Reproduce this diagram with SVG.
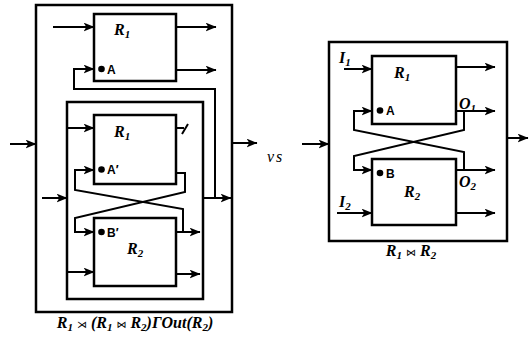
<svg xmlns="http://www.w3.org/2000/svg" width="529" height="337" viewBox="0 0 529 337">
<defs>
<marker id="ah" viewBox="0 0 10 8" refX="9.5" refY="4" markerWidth="11" markerHeight="9" markerUnits="userSpaceOnUse" orient="auto">
<path d="M0,0 L10,4 L0,8 L2.5,4 z" fill="#000"/>
</marker>
<style>
.box{fill:#fff;stroke:#000;stroke-width:2.5}
.frame{fill:none;stroke:#000;stroke-width:2.5}
.ln{fill:none;stroke:#000;stroke-width:2;marker-end:url(#ah)}
.pl{fill:none;stroke:#000;stroke-width:2}
.r{font-family:"Liberation Serif",serif;font-weight:bold;font-style:italic;font-size:16px;fill:#000}
.sub{font-size:11px}
.pin{font-family:"Liberation Sans",Arial,sans-serif;font-weight:bold;font-size:12px;fill:#000}
.op{font-family:"DejaVu Sans",sans-serif;font-style:normal;font-weight:normal;font-size:10px}
</style>
</defs>
<rect width="529" height="337" fill="#fff"/>

<g id="left-frame"><rect class="frame" x="36" y="5" width="196" height="307"/></g>
<g id="inner-frame"><rect class="frame" x="67" y="102" width="136" height="197"/></g>

<g id="connectors">
<line class="ln" x1="10" y1="144" x2="36" y2="144"/>
<line class="ln" x1="53" y1="27" x2="94" y2="27"/>
<line class="ln" x1="176" y1="27" x2="216" y2="27"/>
<line class="ln" x1="176" y1="70" x2="216" y2="70"/>
<path class="ln" d="M215,198 V89 H74 V69 H94"/>
<line class="ln" x1="42" y1="198" x2="67" y2="198"/>
<line class="ln" x1="203" y1="198" x2="231" y2="198"/>
<line class="ln" x1="232" y1="143" x2="257" y2="143"/>
<line class="ln" x1="67" y1="128" x2="94" y2="128"/>
<path class="pl" d="M176,128 H184 M182,134 L188,124"/>
<line class="ln" x1="176" y1="232" x2="200" y2="232"/>
<path class="ln" d="M183,232 V209 L75,190 V170 H94"/>
<path class="ln" d="M176,173 H185 V192 L75,218 V232 H94"/>
<line class="ln" x1="67" y1="272" x2="94" y2="272"/>
<line class="ln" x1="176" y1="274" x2="200" y2="274"/>

<line class="ln" x1="302" y1="144" x2="329" y2="144"/>
<line class="ln" x1="507" y1="138" x2="528" y2="138"/>
<line class="ln" x1="344" y1="69" x2="372" y2="69"/>
<line class="ln" x1="456" y1="67" x2="495" y2="67"/>
<line class="ln" x1="456" y1="111" x2="495" y2="111"/>
<path class="ln" d="M464,111 V130 L354,156 V170 H372"/>
<path class="ln" d="M464,170 V152 L354,130 V111 H372"/>
<line class="ln" x1="456" y1="170" x2="495" y2="170"/>
<line class="ln" x1="337" y1="213" x2="372" y2="213"/>
<line class="ln" x1="456" y1="213" x2="495" y2="213"/>
</g>

<g id="top-r1">
<rect class="box" x="94" y="14" width="82" height="67"/>
<text class="r" x="114" y="35">R<tspan class="sub" dy="3">1</tspan></text>
<circle cx="101.5" cy="69" r="3.3"/>
<text class="pin" x="107" y="74">A</text>
</g>

<g id="inner-r1">
<rect class="box" x="94" y="115" width="82" height="69"/>
<text class="r" x="114" y="137">R<tspan class="sub" dy="3">1</tspan></text>
<circle cx="101.5" cy="169.5" r="3.3"/>
<text class="pin" x="107" y="174">A′</text>
</g>

<g id="inner-r2">
<rect class="box" x="94" y="218" width="82" height="68"/>
<text class="r" x="127" y="254">R<tspan class="sub" dy="3">2</tspan></text>
<circle cx="101.5" cy="232" r="3.3"/>
<text class="pin" x="107" y="237">B′</text>
</g>

<g id="left-caption">
<text class="r" x="135" y="328" text-anchor="middle">R<tspan class="sub" dy="3">1</tspan><tspan dy="-3"> </tspan><tspan class="op">⋊</tspan> (R<tspan class="sub" dy="3">1</tspan><tspan dy="-3"> </tspan><tspan class="op">⋈</tspan> R<tspan class="sub" dy="3">2</tspan><tspan dy="-3">)ΓOut(R</tspan><tspan class="sub" dy="3">2</tspan><tspan dy="-3">)</tspan></text>
</g>

<g id="vs">
<text x="267" y="162" font-family="Liberation Serif,serif" font-style="italic" font-size="16" letter-spacing="2">vs</text>
</g>

<g id="right-frame"><rect class="frame" x="329" y="42" width="178" height="199"/></g>

<g id="right-r1">
<rect class="box" x="372" y="56" width="84" height="68"/>
<text class="r" x="394" y="78">R<tspan class="sub" dy="3">1</tspan></text>
<circle cx="380" cy="110.5" r="3.3"/>
<text class="pin" x="386" y="115">A</text>
</g>

<g id="right-r2">
<rect class="box" x="372" y="159" width="84" height="66"/>
<text class="r" x="404" y="197">R<tspan class="sub" dy="3">2</tspan></text>
<circle cx="380" cy="173" r="3.3"/>
<text class="pin" x="386" y="178">B</text>
</g>

<g id="right-labels">
<text class="r" x="339" y="63">I<tspan class="sub" dy="3">1</tspan></text>
<text class="r" x="339" y="207">I<tspan class="sub" dy="3">2</tspan></text>
<text class="r" x="459" y="109">O<tspan class="sub" dy="3">1</tspan></text>
<text class="r" x="459" y="187">O<tspan class="sub" dy="3">2</tspan></text>
<text class="r" x="411" y="256" text-anchor="middle">R<tspan class="sub" dy="3">1</tspan><tspan dy="-3"> </tspan><tspan class="op">⋈</tspan> R<tspan class="sub" dy="3">2</tspan></text>
</g>
</svg>
